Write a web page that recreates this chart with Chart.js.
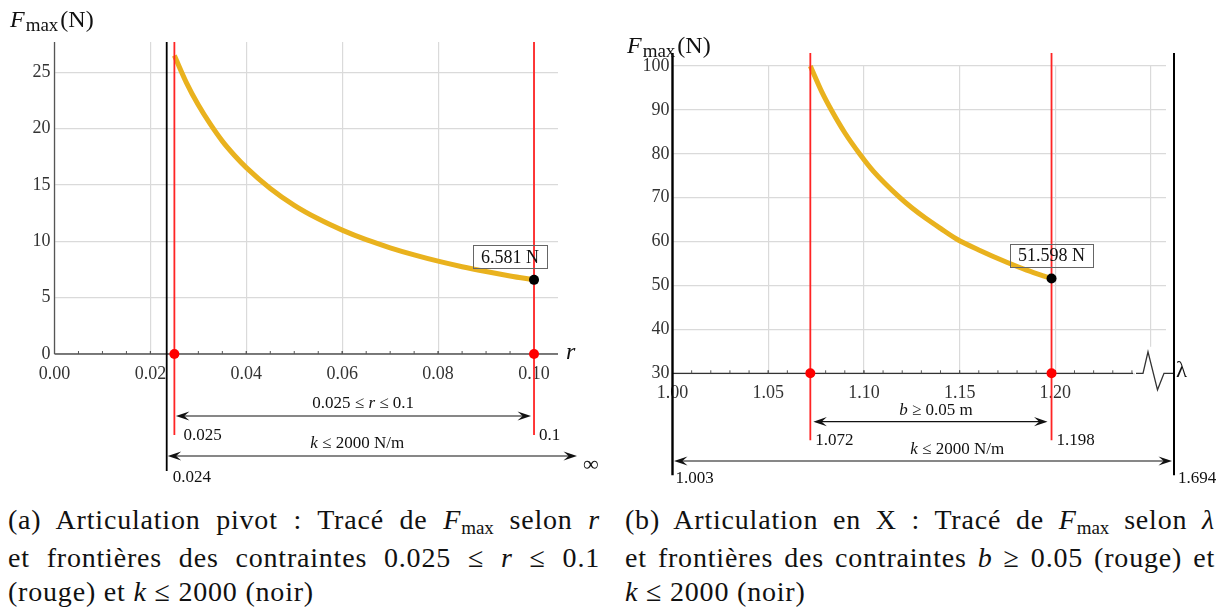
<!DOCTYPE html>
<html><head><meta charset="utf-8">
<script src="https://cdn.jsdelivr.net/npm/chart.js@4/dist/chart.umd.min.js"></script>
<style>
html,body{margin:0;padding:0;background:#fff;width:1225px;height:610px;overflow:hidden}
.cap{position:absolute;font-size:28px;line-height:34.5px;color:#111;letter-spacing:0.8px}
.j{text-align:justify;text-align-last:justify}
.cap sub{font-size:19px;vertical-align:baseline;position:relative;top:5px;letter-spacing:0}
</style></head><body>
<canvas id="ca" width="610" height="490" style="position:absolute;left:0;top:0"></canvas>
<canvas id="cb" width="615" height="490" style="position:absolute;left:610px;top:0"></canvas>
<div class="cap" style="left:8px;top:503px;width:592px;font-family:'Liberation Serif',serif">
<div class="j">(a) Articulation pivot : Tracé de <i>F</i><sub>max</sub> selon <i>r</i></div>
<div class="j">et frontières des contraintes 0.025 ≤ <i>r</i> ≤ 0.1</div>
<div>(rouge) et <i>k</i> ≤ 2000 (noir)</div>
</div>
<div class="cap" style="left:625px;top:503px;width:590px;font-family:'Liberation Serif',serif">
<div class="j">(b) Articulation en X : Tracé de <i>F</i><sub>max</sub> selon <i>λ</i></div>
<div class="j">et frontières des contraintes <i>b</i> ≥ 0.05 (rouge) et</div>
<div><i>k</i> ≤ 2000 (noir)</div>
</div>
<script>
// ---------- (a) Articulation pivot ----------
const pivotR = [0.025, 0.0275, 0.03, 0.0325, 0.035, 0.0375, 0.04, 0.045, 0.05, 0.055, 0.06, 0.065, 0.07, 0.075, 0.08, 0.085, 0.09, 0.095, 0.1];
const pivotF = [26.5, 24.1, 22.1, 20.4, 18.9, 17.65, 16.55, 14.7, 13.2, 12.0, 11.0, 10.15, 9.43, 8.8, 8.24, 7.75, 7.32, 6.93, 6.581];
const pivotXTicks = [0, 0.02, 0.04, 0.06, 0.08, 0.10];
const pivotXLabels = ['0.00', '0.02', '0.04', '0.06', '0.08', '0.10'];
const pivotYTicks = [0, 5, 10, 15, 20, 25];
const pivotYLabels = ['0', '5', '10', '15', '20', '25'];
const pivotRedBounds = [0.025, 0.1];
const pivotRedLabels = ['0.025', '0.1'];
const pivotKBound = [0.0234];
const pivotKLabels = ['0.024'];
const pivotOptimum = [0.1, 6.581];
const pivotOptLabel = '6.581 N';

// ---------- (b) Articulation en X ----------
const lambdaX = [1.072, 1.078, 1.0832, 1.09, 1.0979, 1.105, 1.1188, 1.125, 1.1323, 1.14, 1.1484, 1.16, 1.1746, 1.185, 1.198];
const fX = [100, 94.1, 89.8, 84.8, 79.9, 76.0, 70.0, 67.7, 65.3, 63.0, 60.6, 58.1, 55.3, 53.5, 51.598];
const xXTicks = [1.00, 1.05, 1.10, 1.15, 1.20, 1.25];
const xXLabels = ['1.00', '1.05', '1.10', '1.15', '1.20', ''];
const xYTicks = [30, 40, 50, 60, 70, 80, 90, 100];
const xYLabels = ['30', '40', '50', '60', '70', '80', '90', '100'];
const xRedBounds = [1.072, 1.198];
const xRedLabels = ['1.072', '1.198'];
const xKLabels = ['1.003', '1.694'];
const xOptimum = [1.198, 51.598];
const xOptLabel = '51.598 N';

const FAM = "'Liberation Serif', serif";
const fnt = (s, it) => (it ? 'italic ' : '') + s + 'px ' + FAM;
const GOLD = '#E9B21E', RED = '#ff2424', GRID = '#dadada', AXIS = '#555';

function rich(ctx, parts, x, y, align, size) {
  ctx.save();
  ctx.fillStyle = '#111'; ctx.textBaseline = 'middle'; ctx.textAlign = 'left';
  let w = 0;
  parts.forEach(p => { ctx.font = fnt(size, p[1]); w += ctx.measureText(p[0]).width; });
  let cx = align === 'center' ? x - w / 2 : x;
  parts.forEach(p => { ctx.font = fnt(size, p[1]); ctx.fillText(p[0], cx, y); cx += ctx.measureText(p[0]).width; });
  ctx.restore();
}
function head(ctx, x, y, dir) {
  const L = 13.5, W = 4.6, N = 0.62;
  ctx.beginPath();
  ctx.moveTo(x, y);
  ctx.lineTo(x - dir * L, y - W);
  ctx.lineTo(x - dir * L * N, y);
  ctx.lineTo(x - dir * L, y + W);
  ctx.closePath(); ctx.fill();
}
function arrow(ctx, x1, x2, y) {
  ctx.save(); ctx.strokeStyle = '#111'; ctx.fillStyle = '#111'; ctx.lineWidth = 1.2;
  ctx.beginPath(); ctx.moveTo(x1 + 6, y); ctx.lineTo(x2 - 6, y); ctx.stroke();
  head(ctx, x1, y, -1); head(ctx, x2, y, 1);
  ctx.restore();
}
function vline(ctx, x, y1, y2, color, w) {
  ctx.save(); ctx.strokeStyle = color; ctx.lineWidth = w;
  ctx.beginPath(); ctx.moveTo(x, y1); ctx.lineTo(x, y2); ctx.stroke(); ctx.restore();
}
function seg(ctx, x1, y1, x2, y2) { ctx.beginPath(); ctx.moveTo(x1, y1); ctx.lineTo(x2, y2); ctx.stroke(); }
function title(ctx, x, y) {
  ctx.save(); ctx.fillStyle = '#111'; ctx.textBaseline = 'alphabetic'; ctx.textAlign = 'left';
  ctx.font = fnt(24, true); ctx.fillText('F', x, y); let cx = x + ctx.measureText('F').width + 1;
  ctx.font = fnt(19, false); ctx.fillText('max', cx, y + 4); cx += ctx.measureText('max').width + 2;
  ctx.font = fnt(24, false); ctx.fillText('(N)', cx, y);
  ctx.restore();
}
function box(ctx, text, cx, cy) {
  ctx.save(); ctx.font = fnt(18, false);
  const w = ctx.measureText(text).width + 16, h = 23;
  ctx.strokeStyle = '#666'; ctx.lineWidth = 1;
  ctx.strokeRect(Math.round(cx - w / 2) + 0.5, Math.round(cy - h / 2) + 0.5, Math.round(w), h);
  ctx.fillStyle = '#111'; ctx.textAlign = 'center'; ctx.textBaseline = 'middle';
  ctx.fillText(text, cx, cy + 1);
  ctx.restore();
}
function minorTicks(ctx, xs, ticks, n, bottom, upTo) {
  ctx.save(); ctx.strokeStyle = AXIS; ctx.lineWidth = 1;
  for (let i = 0; i < ticks.length - 1; i++) {
    for (let k = 0; k <= n; k++) {
      const v = ticks[i] + (ticks[i + 1] - ticks[i]) * k / n;
      const px = xs.getPixelForValue(v);
      if (upTo !== undefined && px > upTo) continue;
      seg(ctx, px, bottom, px, bottom - 3);
    }
  }
  ctx.restore();
}

function scaleOpts(ticksArr, labels, fitFn, pad) {
  return {
    type: 'linear',
    afterBuildTicks: s => { s.ticks = ticksArr.map(v => ({ value: v })); },
    afterFit: fitFn,
    grid: { color: GRID, lineWidth: 1.2, drawTicks: false },
    border: { display: false },
    ticks: {
      autoSkip: false, maxRotation: 0, padding: pad, color: '#333',
      font: { family: FAM, size: 18 },
      callback: (v, i) => labels[i]
    }
  };
}

const overlayA = {
  id: 'overlayA',
  beforeDatasetsDraw(chart) {
    const { ctx, chartArea: a, scales: { x } } = chart;
    ctx.save(); ctx.strokeStyle = AXIS; ctx.lineWidth = 1.3;
    seg(ctx, a.left, a.bottom, a.right, a.bottom);
    seg(ctx, a.left, a.top, a.left, a.bottom);
    ctx.restore();
    minorTicks(ctx, x, pivotXTicks.concat([0.12]), 4, a.bottom, a.right);
  },
  afterDatasetDraw(chart, args) {
    if (args.index !== 0) return;
    const { ctx, chartArea: a, scales: { x } } = chart;
    pivotRedBounds.forEach(v => vline(ctx, x.getPixelForValue(v), a.top, a.bottom + 81, RED, 1.8));
    pivotKBound.forEach(v => vline(ctx, x.getPixelForValue(v), a.top, a.bottom + 117, '#000', 1.8));
  },
  afterDraw(chart) {
    const { ctx, chartArea: a, scales: { x, y } } = chart;
    title(ctx, 10, 27);
    rich(ctx, [['r', true]], a.right + 8, a.bottom - 1, 'left', 24);
    const r1 = x.getPixelForValue(pivotRedBounds[0]), r2 = x.getPixelForValue(pivotRedBounds[1]);
    const k1 = x.getPixelForValue(pivotKBound[0]);
    arrow(ctx, r1 + 1.5, r2 - 3, a.bottom + 62);
    rich(ctx, [['0.025 ≤ ', false], ['r', true], [' ≤ 0.1', false]], (r1 + r2) / 2 + 9, a.bottom + 49.5, 'center', 17);
    arrow(ctx, k1 + 1, a.right + 19, a.bottom + 102);
    rich(ctx, [['k', true], [' ≤ 2000 N/m', false]], (r1 + r2) / 2 + 3, a.bottom + 90, 'center', 17);
    rich(ctx, [['∞', false]], a.right + 25, a.bottom + 111, 'left', 22);
    rich(ctx, [[pivotRedLabels[0], false]], r1 + 9, a.bottom + 82, 'left', 17);
    rich(ctx, [[pivotRedLabels[1], false]], r2 + 5, a.bottom + 82, 'left', 17);
    rich(ctx, [[pivotKLabels[0], false]], k1 + 6, a.bottom + 124, 'left', 17);
    const px = x.getPixelForValue(pivotOptimum[0]), py = y.getPixelForValue(pivotOptimum[1]);
    box(ctx, pivotOptLabel, px - 24, py - 23);
  }
};

const overlayB = {
  id: 'overlayB',
  beforeDatasetsDraw(chart) {
    const { ctx, chartArea: a, scales: { x } } = chart;
    const brk = a.right - 33;
    ctx.save(); ctx.fillStyle = '#fff';
    ctx.fillRect(a.right - 31, a.bottom - 26.5, 39, 50);
    ctx.strokeStyle = '#333'; ctx.lineWidth = 1.3;
    seg(ctx, a.left, a.bottom, brk, a.bottom);
    ctx.beginPath();
    ctx.moveTo(a.right - 30, a.bottom);
    ctx.lineTo(a.right - 23, a.bottom);
    ctx.lineTo(a.right - 18, a.bottom - 21.5);
    ctx.lineTo(a.right - 8.5, a.bottom + 16.5);
    ctx.lineTo(a.right - 2, a.bottom);
    ctx.lineTo(a.right + 8, a.bottom);
    ctx.stroke();
    ctx.restore();
    minorTicks(ctx, x, xXTicks, 5, a.bottom, brk);
  },
  afterDatasetDraw(chart, args) {
    if (args.index !== 0) return;
    const { ctx, chartArea: a, scales: { x } } = chart;
    xRedBounds.forEach(v => vline(ctx, x.getPixelForValue(v), a.top - 13, a.bottom + 67, RED, 1.8));
    vline(ctx, a.left, a.top - 13, a.bottom + 102, '#000', 2.4);
    vline(ctx, a.right + 8, a.top - 13, a.bottom + 102, '#000', 2);
  },
  afterDraw(chart) {
    const { ctx, chartArea: a, scales: { x, y } } = chart;
    title(ctx, 17, 53);
    rich(ctx, [['λ', false]], a.right + 10, a.bottom - 2, 'left', 23);
    const r1 = x.getPixelForValue(xRedBounds[0]), r2 = x.getPixelForValue(xRedBounds[1]);
    const kR = a.right + 8;
    arrow(ctx, r1 + 3, r2 - 4, a.bottom + 48.4);
    rich(ctx, [['b', true], [' ≥ 0.05 m', false]], (r1 + r2) / 2 + 5, a.bottom + 37.5, 'center', 17);
    arrow(ctx, a.left + 1.5, kR - 2, a.bottom + 87.7);
    rich(ctx, [['k', true], [' ≤ 2000 N/m', false]], (a.left + kR) / 2 + 34, a.bottom + 76, 'center', 17);
    rich(ctx, [[xRedLabels[0], false]], r1 + 5, a.bottom + 67, 'left', 17);
    rich(ctx, [[xRedLabels[1], false]], r2 + 5, a.bottom + 67, 'left', 17);
    rich(ctx, [[xKLabels[0], false]], a.left + 3, a.bottom + 105, 'left', 17);
    rich(ctx, [[xKLabels[1], false]], kR + 4, a.bottom + 105, 'left', 17);
    const px = x.getPixelForValue(xOptimum[0]), py = y.getPixelForValue(xOptimum[1]);
    box(ctx, xOptLabel, px, py - 23);
  }
};

function curveDs(xs, ys) {
  return { type: 'line', data: xs.map((v, i) => ({ x: v, y: ys[i] })), borderColor: GOLD, borderWidth: 5,
    pointRadius: 0, cubicInterpolationMode: 'monotone', clip: false, order: 3, borderCapStyle: 'butt' };
}
function dotsDs(pts, color) {
  return { type: 'scatter', data: pts, pointRadius: 5, pointBackgroundColor: color, pointBorderWidth: 0,
    borderWidth: 0, clip: false, order: 1 };
}
const common = {
  responsive: false, animation: false, devicePixelRatio: 1,
  plugins: { legend: { display: false }, tooltip: { enabled: false } }
};

const chartA = new Chart(document.getElementById('ca'), {
  type: 'scatter',
  data: { datasets: [
    curveDs(pivotR, pivotF),
    dotsDs(pivotRedBounds.map(v => ({ x: v, y: 0 })), '#ff0000'),
    dotsDs([{ x: pivotOptimum[0], y: pivotOptimum[1] }], '#000')
  ] },
  options: Object.assign({}, common, {
    layout: { padding: { top: 42, right: 52, left: 0, bottom: 0 } },
    scales: {
      x: Object.assign(scaleOpts(pivotXTicks, pivotXLabels, s => { s.height = 136; }, 9), { min: 0, max: 0.105 }),
      y: Object.assign(scaleOpts(pivotYTicks, pivotYLabels, s => { s.width = 54.5; }, 4), { min: 0, max: 27.7 })
    }
  }),
  plugins: [overlayA]
});

const chartB = new Chart(document.getElementById('cb'), {
  type: 'scatter',
  data: { datasets: [
    curveDs(lambdaX, fX),
    dotsDs(xRedBounds.map(v => ({ x: v, y: 30 })), '#ff0000'),
    dotsDs([{ x: xOptimum[0], y: xOptimum[1] }], '#000')
  ] },
  options: Object.assign({}, common, {
    layout: { padding: { top: 66, right: 59, left: 0, bottom: 0 } },
    scales: {
      x: Object.assign(scaleOpts(xXTicks, xXLabels, s => { s.height = 116.7; }, 9), { min: 1.0, max: 1.2578 }),
      y: Object.assign(scaleOpts(xYTicks, xYLabels, s => { s.width = 62.5; }, 3), { min: 30, max: 100 })
    }
  }),
  plugins: [overlayB]
});
if (document.fonts && document.fonts.ready) {
  document.fonts.ready.then(() => { chartA.update('none'); chartB.update('none'); });
}
</script>
</body></html>
